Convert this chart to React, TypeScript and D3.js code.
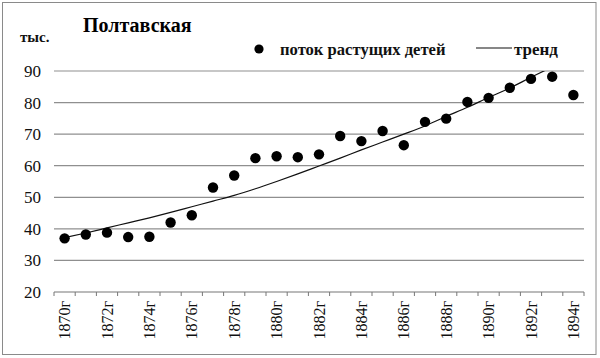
import React from "react";
import * as d3 from "d3";

const years = [
  "1870", "1871", "1872", "1873", "1874", "1875", "1876", "1877", "1878", "1879",
  "1880", "1881", "1882", "1883", "1884", "1885", "1886", "1887", "1888", "1889",
  "1890", "1891", "1892", "1893", "1894",
];
const flowValues = [
  37.0, 38.2, 38.8, 37.4, 37.5, 42.0, 44.3, 53.1, 56.9, 62.4,
  63.0, 62.7, 63.6, 69.4, 67.8, 71.0, 66.5, 73.9, 74.9, 80.2,
  81.5, 84.7, 87.5, 88.2, 82.4,
];
const trendValues = [
  37.2, 38.7, 40.3, 41.9, 43.5, 45.2, 47.0, 48.8, 50.6, 52.7,
  55.0, 57.4, 59.9, 62.4, 65.0, 67.5, 70.0, 72.6, 75.6, 78.5,
  81.6, 84.6, 88.0, 91.3,
];
const yTicks = [20, 30, 40, 50, 60, 70, 80, 90];
const labelYears = years.filter((_, i) => i % 2 === 0);

const W = 600;
const H = 358;
const serif = "Liberation Serif, DejaVu Serif, serif";

export default function App() {
  const x = d3.scaleBand<string>().domain(years).range([54, 584]).padding(0);
  const y = d3.scaleLinear().domain([20, 90]).range([292, 71]);
  const cx = (yr: string) => (x(yr) ?? 0) + x.bandwidth() / 2;

  const trendLine = d3
    .line<number>()
    .x((_, i) => cx(years[i]))
    .y((d) => y(d))
    .curve(d3.curveMonotoneX);

  const boundaries = years.map((yr) => x(yr) ?? 0).concat([584]);
  const ts = { fontFamily: serif };

  return (
    <div style={{ position: "absolute", left: 0, top: 0, width: W, height: H, background: "#fff" }}>
      <svg width={W} height={H} style={{ display: "block", fontFamily: serif }}>
        <defs>
          <clipPath id="plotClip">
            <rect x={54} y={y(90)} width={530} height={y(20) - y(90)} />
          </clipPath>
        </defs>
        <rect x={0} y={0} width={W} height={H} fill="#fff" />
        <rect x={2.5} y={2.5} width={593.5} height={352} fill="none" stroke="#8a8a8a" strokeWidth={1} />

        {yTicks.filter((t) => t > 20).map((t) => (
          <line key={t} x1={54} x2={584} y1={y(t)} y2={y(t)} stroke="#8f8f8f" strokeWidth={1.2} />
        ))}
        <line x1={54} x2={584} y1={y(20)} y2={y(20)} stroke="#777" strokeWidth={1.2} />
        {boundaries.map((b, i) => (
          <line key={i} x1={b} x2={b} y1={y(20)} y2={y(20) + 4} stroke="#777" strokeWidth={1} />
        ))}

        {yTicks.map((t) => (
          <text key={t} x={41} y={y(t)} dy="0.35em" textAnchor="end" style={ts} fontSize={17} fill="#111">
            {t}
          </text>
        ))}

        {labelYears.map((yr) => (
          <text
            key={yr}
            transform={`translate(${cx(yr)},${y(20) + 9}) rotate(-90)`}
            dy="0.35em"
            textAnchor="end"
            style={ts}
            fontSize={16}
            fill="#111"
          >
            {yr + "г"}
          </text>
        ))}

        <path d={trendLine(trendValues) ?? ""} fill="none" stroke="#111" strokeWidth={1.2} clipPath="url(#plotClip)" />

        {flowValues.map((v, i) => (
          <circle key={i} cx={cx(years[i])} cy={y(v)} r={5.2} fill="#000" />
        ))}

        <text x={83} y={32} style={ts} fontWeight="bold" fontSize={20} fill="#000">
          Полтавская
        </text>
        <text x={20} y={42} style={ts} fontWeight="bold" fontSize={15} fill="#111">
          тыс.
        </text>

        <circle cx={259} cy={49} r={4.6} fill="#000" />
        <text x={280} y={55} style={ts} fontWeight="bold" fontSize={16.6} fill="#111">
          поток растущих детей
        </text>
        <line x1={476} x2={512} y1={48} y2={48} stroke="#111" strokeWidth={1.2} />
        <text x={514} y={55} style={ts} fontWeight="bold" fontSize={17} fill="#111">
          тренд
        </text>
      </svg>
    </div>
  );
}
